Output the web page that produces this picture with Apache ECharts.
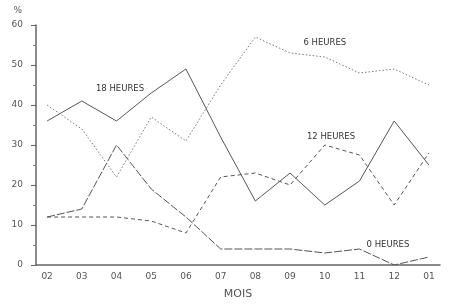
<!DOCTYPE html>
<html><head><meta charset="utf-8">
<script src="https://cdn.jsdelivr.net/npm/echarts@6/dist/echarts.min.js"></script>
<style>html,body{margin:0;padding:0;background:#fff}#c{width:450px;height:305px}</style>
</head><body><div id="c"></div>
<script>
const months = ['02','03','04','05','06','07','08','09','10','11','12','01'];
const h18 = [36, 41, 36, 43, 49, 32, 16, 23, 15, 21, 36, 25];
const h6  = [40, 34, 22, 37, 31, 45, 57, 53, 52, 48, 49, 45];
const h12 = [12, 12, 12, 11, 8, 22, 23, 20, 30, 27.5, 15, 28];
const h0  = [12, 14, 30, 19, 12, 4, 4, 4, 3, 4, 0, 2];
const yTicks = [0, 10, 20, 30, 40, 50, 60];

const pairs = arr => arr.map((v, i) => [i, v]);
function tag(text, x, y) {
  return {
    symbol: 'circle', symbolSize: 1, silent: true,
    itemStyle: { color: 'rgba(0,0,0,0)' },
    label: { show: true, formatter: text, position: 'inside', color: '#333',
      fontSize: 8.5, fontFamily: 'DejaVu Sans', letterSpacing: 0.5 },
    data: [{ coord: [x, y] }]
  };
}
function ser(name, data, dash, color, label) {
  return {
    name, type: 'line', data: pairs(data), symbol: 'none', animation: false,
    lineStyle: { color: color, width: 1, type: dash },
    markPoint: label
  };
}
const chart = echarts.init(document.getElementById('c'), null, { renderer: 'canvas' });
chart.setOption({
  animation: false,
  grid: { left: 36, right: 10, top: 25, bottom: 38 },
  xAxis: {
    type: 'value', min: -0.32, max: 11.32,
    axisLine: { show: true, onZero: false, lineStyle: { color: '#666', width: 1.5 } },
    axisTick: { show: false },
    splitLine: { show: false },
    axisLabel: {
      customValues: months.map((m, i) => i),
      formatter: v => months[Math.round(v)],
      color: '#555', fontSize: 9, fontFamily: 'DejaVu Sans', margin: 7
    },
    name: 'MOIS', nameLocation: 'middle', nameGap: 24,
    nameTextStyle: { color: '#555', fontSize: 11, fontFamily: 'DejaVu Sans', letterSpacing: 1 }
  },
  yAxis: {
    type: 'value', min: 0, max: 60, interval: 10,
    axisLine: { show: true, onZero: false, lineStyle: { color: '#666', width: 1.5 } },
    axisTick: { show: true, length: 5, lineStyle: { color: '#666' } },
    minorTick: { show: true, splitNumber: 2, length: 3, lineStyle: { color: '#777' } },
    splitLine: { show: false },
    axisLabel: { color: '#555', fontSize: 9, fontFamily: 'DejaVu Sans', margin: 13,
      formatter: v => yTicks.includes(v) ? String(v) : '' },
    name: '%', nameLocation: 'end', nameGap: 10,
    nameTextStyle: { color: '#555', fontSize: 9, fontFamily: 'DejaVu Sans', align: 'right', padding: [0, 14, 0, 0] }
  },
  series: [
    ser('18 HEURES', h18, 'solid', '#555', tag('18 HEURES', 2.1, 44.0)),
    ser('6 HEURES', h6, [1.5, 2], '#777', tag('6 HEURES', 8.0, 55.6)),
    ser('12 HEURES', h12, [4, 3], '#555', tag('12 HEURES', 8.18, 32.0)),
    ser('0 HEURES', h0, [8, 2], '#555', tag('0 HEURES', 9.82, 5.0))
  ]
});
</script></body></html>
